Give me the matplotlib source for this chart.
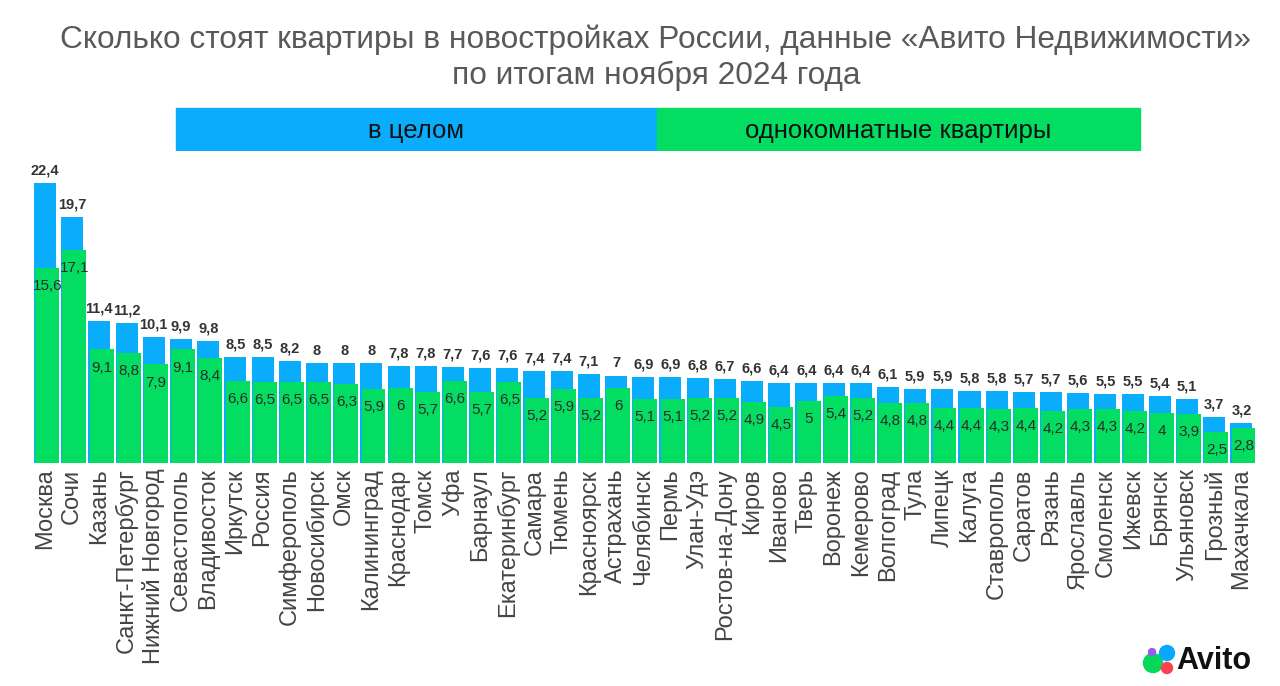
import numpy as np
import matplotlib
matplotlib.use("Agg")
from matplotlib import pyplot as plt
from matplotlib.patches import Rectangle, Circle

plt.rcParams['font.family'] = ['Liberation Sans', 'DejaVu Sans']

cities = ['Москва', 'Сочи', 'Казань', 'Санкт-Петербург', 'Нижний Новгород', 'Севастополь',
          'Владивосток', 'Иркутск', 'Россия', 'Симферополь', 'Новосибирск', 'Омск',
          'Калининград', 'Краснодар', 'Томск', 'Уфа', 'Барнаул', 'Екатеринбург', 'Самара',
          'Тюмень', 'Красноярск', 'Астрахань', 'Челябинск', 'Пермь', 'Улан-Удэ',
          'Ростов-на-Дону', 'Киров', 'Иваново', 'Тверь', 'Воронеж', 'Кемерово', 'Волгоград',
          'Тула', 'Липецк', 'Калуга', 'Ставрополь', 'Саратов', 'Рязань', 'Ярославль',
          'Смоленск', 'Ижевск', 'Брянск', 'Ульяновск', 'Грозный', 'Махачкала']
overall = [22.4, 19.7, 11.4, 11.2, 10.1, 9.9, 9.8, 8.5, 8.5, 8.2, 8, 8, 8, 7.8, 7.8, 7.7,
           7.6, 7.6, 7.4, 7.4, 7.1, 7, 6.9, 6.9, 6.8, 6.7, 6.6, 6.4, 6.4, 6.4, 6.4, 6.1,
           5.9, 5.9, 5.8, 5.8, 5.7, 5.7, 5.6, 5.5, 5.5, 5.4, 5.1, 3.7, 3.2]
one_room = [15.6, 17.1, 9.1, 8.8, 7.9, 9.1, 8.4, 6.6, 6.5, 6.5, 6.5, 6.3, 5.9, 6, 5.7, 6.6,
            5.7, 6.5, 5.2, 5.9, 5.2, 6, 5.1, 5.1, 5.2, 5.2, 4.9, 4.5, 5, 5.4, 5.2, 4.8,
            4.8, 4.4, 4.4, 4.3, 4.4, 4.2, 4.3, 4.3, 4.2, 4, 3.9, 2.5, 2.8]
legend_labels = ['в целом', 'однокомнатные квартиры']
title = 'Сколько стоят квартиры в новостройках России, данные «Авито Недвижимости»\nпо итогам ноября 2024 года'

BLUE = '#0AADFB'
GREEN = '#03DE62'

W, H = 1280, 686
fig = plt.figure(figsize=(12.8, 6.86), dpi=100)

# overlay in pixel coordinates for the decorations
deco = fig.add_axes([0, 0, 1, 1])
deco.set_xlim(0, W)
deco.set_ylim(H, 0)
deco.axis('off')

def fx(px):
    return px / W

def fy(py):
    return 1 - py / H

ax = fig.add_axes([fx(32), fy(463), fx(1255) - fx(32), fy(151) - fy(463)])
x = np.arange(len(cities))
ax.bar(x, overall, width=0.81, color=BLUE, zorder=1)
ax.bar(x + 0.08, one_room, width=0.88, color=GREEN, zorder=2)
ax.set_xlim(-0.48, 44.5)
ax.set_ylim(0, 25)

for xi, v in zip(x, overall):
    ax.annotate(f'{v:g}'.replace('.', ','), (xi, v), xytext=(0, 4), textcoords='offset points',
                ha='center', va='bottom', fontsize=10.5, fontweight='bold', color='#333333', zorder=3)
for xi, v in zip(x, one_room):
    ax.annotate(f'{v:g}'.replace('.', ','), (xi + 0.08, v), xytext=(0, -8), textcoords='offset points',
                ha='center', va='top', fontsize=11, color='#2b2b2b', zorder=3)

ax.set_xticks(x)
ax.set_xticklabels(cities, rotation=90, fontsize=17, color='#444444')
ax.tick_params(axis='x', length=0, pad=4)
ax.set_yticks([])
for s in ax.spines.values():
    s.set_visible(False)

# legend band
deco.add_patch(Rectangle((176, 108), 657 - 176, 44, color=BLUE))
deco.add_patch(Rectangle((657, 108), 1140 - 657, 44, color=GREEN))
deco.text(416, 131, legend_labels[0], ha='center', va='center', fontsize=18.5, color='#111111')
deco.text(898, 131, legend_labels[1], ha='center', va='center', fontsize=18.5, color='#111111')

deco.text(656, 58, title, ha='center', va='center', fontsize=22.8, color='#595959',
          linespacing=1.25)

# logo
for cx, cy, r, c in [(1153, 663, 9.5, '#04D85A'), (1167, 653, 7.5, '#0AA7FF'),
                     (1152, 652, 3.5, '#9B59F0'), (1167, 668, 5.5, '#FF4053')]:
    deco.add_patch(Circle((cx, cy), r, color=c))
deco.text(1176, 661, 'Avito', ha='left', va='center', fontsize=22, fontweight='bold',
          color='#111111')

fig.savefig('out.png', dpi=100)
